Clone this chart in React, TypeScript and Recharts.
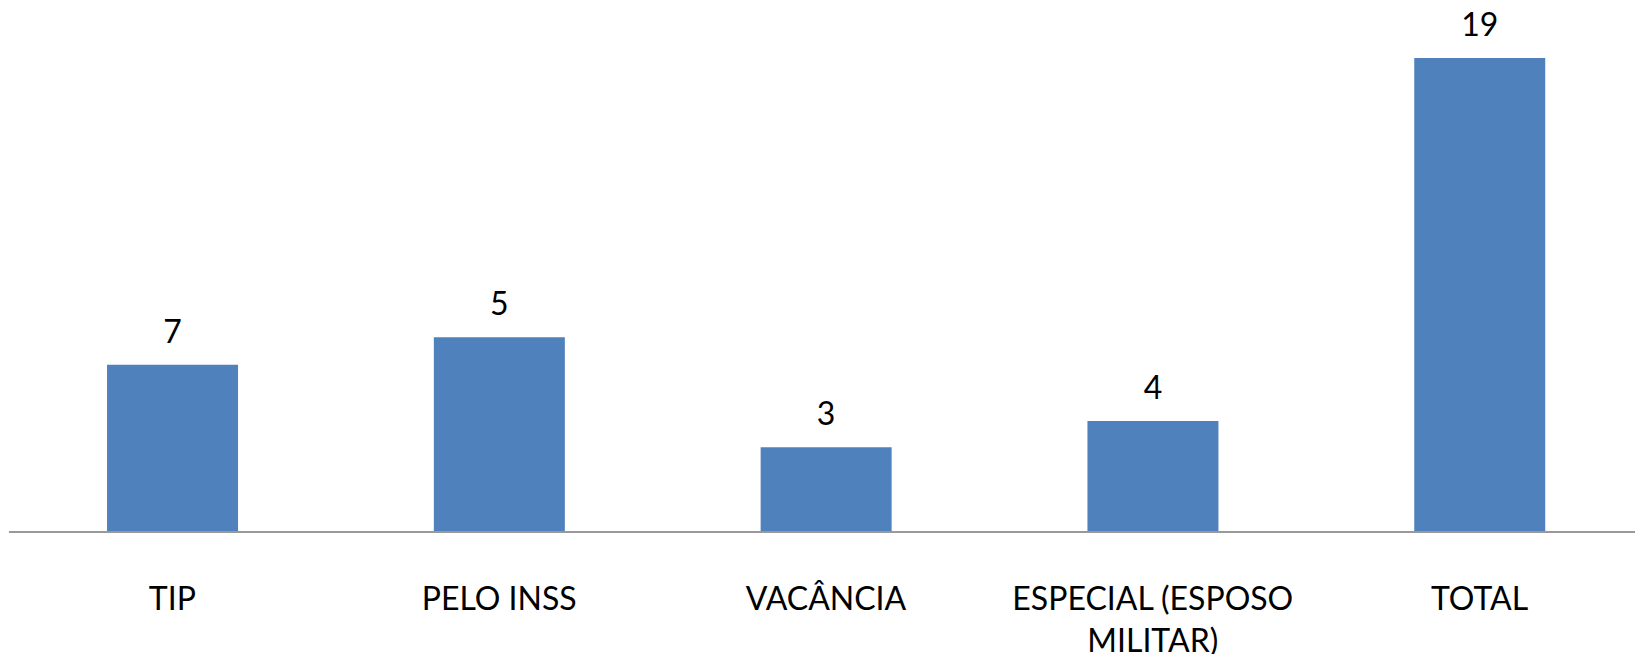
import React from "react";
import { BarChart, Bar, XAxis, YAxis, LabelList } from "recharts";

const categories = ["TIP", "PELO INSS", "VACÂNCIA", "ESPECIAL (ESPOSO MILITAR)", "TOTAL"];
// bar heights as drawn in the reference
const barValues = [6.7, 7.8, 3.4, 4.45, 19];
// value labels printed above the bars
const labelValues = [7, 5, 3, 4, 19];

const data = categories.map((name, i) => ({ name, value: barValues[i], label: labelValues[i] }));

const FONT = "Lato, 'Open Sans', sans-serif";

const wrap = (s: string, max: number) => {
  const words = s.split(" ");
  const lines: string[] = [];
  let cur = "";
  for (const w of words) {
    const t = cur ? cur + " " + w : w;
    if (t.length > max && cur) {
      lines.push(cur);
      cur = w;
    } else cur = t;
  }
  if (cur) lines.push(cur);
  return lines;
};

const Tick = (props: any) => {
  const { x, y, payload } = props;
  const lines = wrap(String(payload.value), 17);
  return (
    <text x={x} y={y} textAnchor="middle" fontFamily={FONT} fontSize={32} fill="#000">
      {lines.map((l, i) => (
        <tspan key={i} x={x} y={y + 70 + i * 42}>
          {l}
        </tspan>
      ))}
    </text>
  );
};

const ValueLabel = (props: any) => {
  const { x, y, width, index } = props;
  return (
    <text x={x + width / 2} y={y - 22} textAnchor="middle" fontFamily={FONT} fontSize={32} fill="#000">
      {labelValues[index]}
    </text>
  );
};

export default function App() {
  return (
    <div style={{ marginTop: -8 }}>
      <BarChart
        width={1635}
        height={654}
        data={data}
        margin={{ top: 8, right: 0, bottom: 0, left: 1 }}
        barCategoryGap="30%"
      >
        <XAxis
          dataKey="name"
          axisLine={{ stroke: "#999999", strokeWidth: 2 }}
          tickLine={false}
          tick={<Tick />}
          height={122}
          interval={0}
        />
        <YAxis hide domain={[0, 21]} />
        <Bar dataKey="value" fill="#4F81BD" isAnimationActive={false}>
          <LabelList dataKey="label" content={<ValueLabel />} />
        </Bar>
      </BarChart>
    </div>
  );
}
